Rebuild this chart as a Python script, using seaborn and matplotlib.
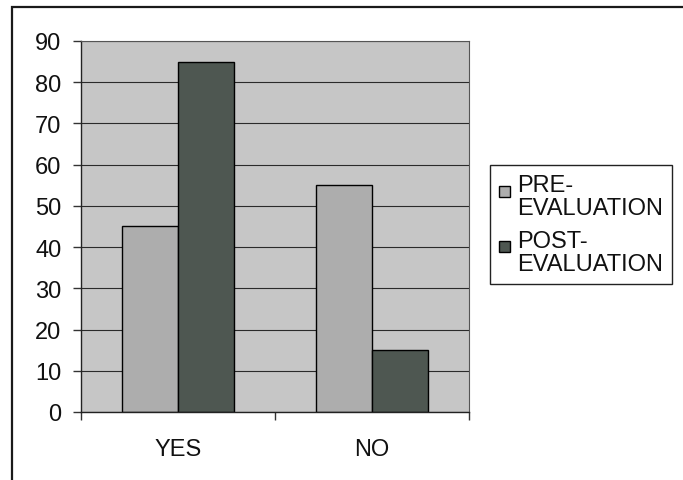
import pandas as pd
import seaborn as sns
import matplotlib.pyplot as plt
from matplotlib.patches import Rectangle
from matplotlib.legend_handler import HandlerPatch

# Dados do gráfico
categorias = ['YES', 'NO']
series = ['PRE-\nEVALUATION', 'POST-\nEVALUATION']
pre_avaliacao = [45, 55]
pos_avaliacao = [85, 15]
ticks_y = [0, 10, 20, 30, 40, 50, 60, 70, 80, 90]

COR_FUNDO = '#C6C6C6'
CORES = ['#ADADAD', '#4E5751']
TAM_FONTE = 17

df = pd.DataFrame({
    'Resposta': categorias * 2,
    'Serie': [series[0]] * len(categorias) + [series[1]] * len(categorias),
    'Valor': pre_avaliacao + pos_avaliacao,
})

sns.set_style('white')
plt.rcParams['font.family'] = ['Liberation Sans', 'DejaVu Sans']

fig = plt.figure(figsize=(6.83, 4.81), dpi=100)
ax = fig.add_axes([0.1186, 0.1414, 0.568, 0.7713])

# Moldura externa do gráfico (estilo Excel)
fig.patches.append(Rectangle((12 / 683, -0.05), 1.1, 1.05 - 8 / 481,
                             transform=fig.transFigure, fill=False,
                             edgecolor='#1a1a1a', linewidth=1.6, zorder=0))

ax.set_facecolor(COR_FUNDO)
ax.set_axisbelow(True)
ax.grid(axis='y', color='#2a2a2a', linewidth=0.8)

sns.barplot(data=df, x='Resposta', y='Valor', hue='Serie', hue_order=series,
            palette=CORES, width=0.58, edgecolor='black', linewidth=1.0,
            saturation=1, ax=ax)

ax.set_ylim(0, 90)
ax.set_xlim(-0.5, 1.5)
ax.set_yticks(ticks_y)
ax.set_yticklabels([str(v) for v in ticks_y], fontsize=TAM_FONTE, color='#111111')
ax.set_xlabel('')
ax.set_ylabel('')

# Ticks do eixo X nas fronteiras das categorias, rótulos no centro
ax.set_xticks([-0.5, 0.5, 1.5])
ax.set_xticklabels(['', '', ''])
ax.set_xticks([0, 1], minor=True)
ax.set_xticklabels(categorias, minor=True, fontsize=TAM_FONTE, color='#111111')
ax.tick_params(axis='x', which='major', direction='out', length=6, width=1, color='#333333', bottom=True)
ax.tick_params(axis='x', which='minor', length=0, pad=19)
ax.tick_params(axis='y', direction='out', length=6, width=1, color='#333333', left=True, pad=8)

for lado in ['left', 'bottom']:
    ax.spines[lado].set_color('#222222')
    ax.spines[lado].set_linewidth(1.0)
for lado in ['top', 'right']:
    ax.spines[lado].set_color('#555555')
    ax.spines[lado].set_linewidth(0.8)


# Quadradinho da legenda alinhado com a primeira linha do rótulo
def quadrado_topo(legend, orig_handle, xdescent, ydescent, width, height, fontsize):
    lado = 0.45 * fontsize
    return Rectangle((-xdescent, -ydescent + height - lado - 0.3 * fontsize), lado, lado)


handles, labels = ax.get_legend_handles_labels()
leg = ax.legend(handles, labels, loc='upper left', bbox_to_anchor=(490 / 683, 1 - 166 / 481),
                bbox_transform=fig.transFigure, fontsize=TAM_FONTE, frameon=True,
                fancybox=False, edgecolor='#222222', framealpha=1,
                handlelength=0.45, handleheight=2.1, handletextpad=0.3,
                labelspacing=0.45, borderpad=0.4, borderaxespad=0,
                handler_map={h: HandlerPatch(patch_func=quadrado_topo) for h in handles})
leg.get_frame().set_linewidth(1.0)
for t in leg.get_texts():
    t.set_color('#111111')
    t.set_linespacing(1.05)

fig.savefig('out.png', dpi=100)
